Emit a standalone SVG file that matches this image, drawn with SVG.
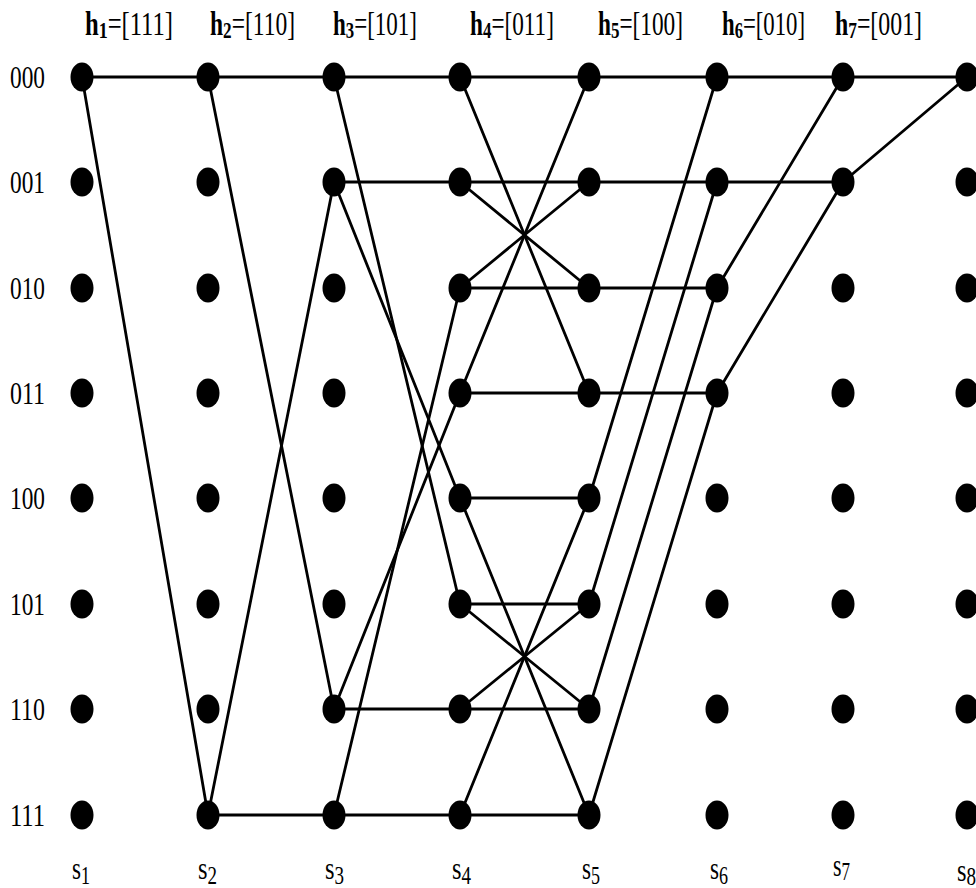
<svg xmlns="http://www.w3.org/2000/svg" width="976" height="888" viewBox="0 0 976 888">
<style>
text{font-family:"Liberation Serif","Times New Roman",serif;fill:#000}
.hdr{font-size:33px}
.b{font-weight:bold}
.sub{font-size:24px}
.row{font-size:31px}
.st{font-size:32px}
.ss{font-size:25px}
#edges line{stroke:#000;stroke-width:2.8;stroke-linecap:round}
.n{fill:#000}
</style>
<rect width="976" height="888" fill="#fff"/>
<g id="headers">
<text x="85" y="35" textLength="88" lengthAdjust="spacingAndGlyphs" class="hdr"><tspan class="b">h</tspan><tspan class="b sub" dy="3">1</tspan><tspan dy="-3">=[111]</tspan></text>
<text x="210" y="35" textLength="85" lengthAdjust="spacingAndGlyphs" class="hdr"><tspan class="b">h</tspan><tspan class="b sub" dy="3">2</tspan><tspan dy="-3">=[110]</tspan></text>
<text x="333" y="35" textLength="84" lengthAdjust="spacingAndGlyphs" class="hdr"><tspan class="b">h</tspan><tspan class="b sub" dy="3">3</tspan><tspan dy="-3">=[101]</tspan></text>
<text x="470" y="35" textLength="84" lengthAdjust="spacingAndGlyphs" class="hdr"><tspan class="b">h</tspan><tspan class="b sub" dy="3">4</tspan><tspan dy="-3">=[011]</tspan></text>
<text x="598" y="35" textLength="85" lengthAdjust="spacingAndGlyphs" class="hdr"><tspan class="b">h</tspan><tspan class="b sub" dy="3">5</tspan><tspan dy="-3">=[100]</tspan></text>
<text x="722" y="35" textLength="83" lengthAdjust="spacingAndGlyphs" class="hdr"><tspan class="b">h</tspan><tspan class="b sub" dy="3">6</tspan><tspan dy="-3">=[010]</tspan></text>
<text x="835" y="35" textLength="87" lengthAdjust="spacingAndGlyphs" class="hdr"><tspan class="b">h</tspan><tspan class="b sub" dy="3">7</tspan><tspan dy="-3">=[001]</tspan></text>
</g>
<g id="rowlabels">
<text x="10" y="88" textLength="35" lengthAdjust="spacingAndGlyphs" class="row">000</text>
<text x="10" y="193" textLength="35" lengthAdjust="spacingAndGlyphs" class="row">001</text>
<text x="10" y="299" textLength="35" lengthAdjust="spacingAndGlyphs" class="row">010</text>
<text x="10" y="404" textLength="35" lengthAdjust="spacingAndGlyphs" class="row">011</text>
<text x="10" y="509" textLength="35" lengthAdjust="spacingAndGlyphs" class="row">100</text>
<text x="10" y="615" textLength="35" lengthAdjust="spacingAndGlyphs" class="row">101</text>
<text x="10" y="720" textLength="35" lengthAdjust="spacingAndGlyphs" class="row">110</text>
<text x="10" y="826" textLength="35" lengthAdjust="spacingAndGlyphs" class="row">111</text>
</g>
<g id="steplabels">
<text x="72" y="879" textLength="18" lengthAdjust="spacingAndGlyphs" class="st">s<tspan class="ss" dy="5">1</tspan></text>
<text x="198" y="879" textLength="19" lengthAdjust="spacingAndGlyphs" class="st">s<tspan class="ss" dy="5">2</tspan></text>
<text x="325" y="879" textLength="19" lengthAdjust="spacingAndGlyphs" class="st">s<tspan class="ss" dy="5">3</tspan></text>
<text x="452" y="879" textLength="19" lengthAdjust="spacingAndGlyphs" class="st">s<tspan class="ss" dy="5">4</tspan></text>
<text x="582" y="879" textLength="18" lengthAdjust="spacingAndGlyphs" class="st">s<tspan class="ss" dy="5">5</tspan></text>
<text x="710" y="879" textLength="18" lengthAdjust="spacingAndGlyphs" class="st">s<tspan class="ss" dy="5">6</tspan></text>
<text x="833" y="876" textLength="17" lengthAdjust="spacingAndGlyphs" class="st">s<tspan class="ss" dy="4">7</tspan></text>
<text x="957" y="881" textLength="19" lengthAdjust="spacingAndGlyphs" class="st">s<tspan class="ss" dy="4">8</tspan></text>
</g>
<g id="edges">
<line x1="82" y1="77" x2="208" y2="77"/><line x1="82" y1="77" x2="208" y2="815"/>
<line x1="208" y1="77" x2="334" y2="77"/><line x1="208" y1="77" x2="334" y2="709"/>
<line x1="208" y1="815" x2="334" y2="815"/><line x1="208" y1="815" x2="334" y2="182"/>
<line x1="334" y1="77" x2="460" y2="77"/><line x1="334" y1="77" x2="460" y2="604"/>
<line x1="334" y1="182" x2="460" y2="182"/><line x1="334" y1="182" x2="460" y2="498"/>
<line x1="334" y1="709" x2="460" y2="709"/><line x1="334" y1="709" x2="460" y2="393"/>
<line x1="334" y1="815" x2="460" y2="815"/><line x1="334" y1="815" x2="460" y2="288"/>
<line x1="460" y1="77" x2="589" y2="77"/><line x1="460" y1="77" x2="589" y2="393"/>
<line x1="460" y1="182" x2="589" y2="182"/><line x1="460" y1="182" x2="589" y2="288"/>
<line x1="460" y1="288" x2="589" y2="288"/><line x1="460" y1="288" x2="589" y2="182"/>
<line x1="460" y1="393" x2="589" y2="393"/><line x1="460" y1="393" x2="589" y2="77"/>
<line x1="460" y1="498" x2="589" y2="498"/><line x1="460" y1="498" x2="589" y2="815"/>
<line x1="460" y1="604" x2="589" y2="604"/><line x1="460" y1="604" x2="589" y2="709"/>
<line x1="460" y1="709" x2="589" y2="709"/><line x1="460" y1="709" x2="589" y2="604"/>
<line x1="460" y1="815" x2="589" y2="815"/><line x1="460" y1="815" x2="589" y2="498"/>
<line x1="589" y1="77" x2="717" y2="77"/><line x1="589" y1="498" x2="717" y2="77"/>
<line x1="589" y1="182" x2="717" y2="182"/><line x1="589" y1="604" x2="717" y2="182"/>
<line x1="589" y1="288" x2="717" y2="288"/><line x1="589" y1="709" x2="717" y2="288"/>
<line x1="589" y1="393" x2="717" y2="393"/><line x1="589" y1="815" x2="717" y2="393"/>
<line x1="717" y1="77" x2="843" y2="77"/><line x1="717" y1="288" x2="843" y2="77"/>
<line x1="717" y1="182" x2="843" y2="182"/><line x1="717" y1="393" x2="843" y2="182"/>
<line x1="843" y1="77" x2="967" y2="77"/><line x1="843" y1="182" x2="967" y2="77"/>
</g>
<defs><ellipse id="dot" rx="11.5" ry="14.5"/></defs>
<g id="nodes" class="n">
<g id="s1-000"><use href="#dot" x="82" y="77"/></g><g id="s1-001"><use href="#dot" x="82" y="182"/></g><g id="s1-010"><use href="#dot" x="82" y="288"/></g><g id="s1-011"><use href="#dot" x="82" y="393"/></g><g id="s1-100"><use href="#dot" x="82" y="498"/></g><g id="s1-101"><use href="#dot" x="82" y="604"/></g><g id="s1-110"><use href="#dot" x="82" y="709"/></g><g id="s1-111"><use href="#dot" x="82" y="815"/></g>
<g id="s2-000"><use href="#dot" x="208" y="77"/></g><g id="s2-001"><use href="#dot" x="208" y="182"/></g><g id="s2-010"><use href="#dot" x="208" y="288"/></g><g id="s2-011"><use href="#dot" x="208" y="393"/></g><g id="s2-100"><use href="#dot" x="208" y="498"/></g><g id="s2-101"><use href="#dot" x="208" y="604"/></g><g id="s2-110"><use href="#dot" x="208" y="709"/></g><g id="s2-111"><use href="#dot" x="208" y="815"/></g>
<g id="s3-000"><use href="#dot" x="334" y="77"/></g><g id="s3-001"><use href="#dot" x="334" y="182"/></g><g id="s3-010"><use href="#dot" x="334" y="288"/></g><g id="s3-011"><use href="#dot" x="334" y="393"/></g><g id="s3-100"><use href="#dot" x="334" y="498"/></g><g id="s3-101"><use href="#dot" x="334" y="604"/></g><g id="s3-110"><use href="#dot" x="334" y="709"/></g><g id="s3-111"><use href="#dot" x="334" y="815"/></g>
<g id="s4-000"><use href="#dot" x="460" y="77"/></g><g id="s4-001"><use href="#dot" x="460" y="182"/></g><g id="s4-010"><use href="#dot" x="460" y="288"/></g><g id="s4-011"><use href="#dot" x="460" y="393"/></g><g id="s4-100"><use href="#dot" x="460" y="498"/></g><g id="s4-101"><use href="#dot" x="460" y="604"/></g><g id="s4-110"><use href="#dot" x="460" y="709"/></g><g id="s4-111"><use href="#dot" x="460" y="815"/></g>
<g id="s5-000"><use href="#dot" x="589" y="77"/></g><g id="s5-001"><use href="#dot" x="589" y="182"/></g><g id="s5-010"><use href="#dot" x="589" y="288"/></g><g id="s5-011"><use href="#dot" x="589" y="393"/></g><g id="s5-100"><use href="#dot" x="589" y="498"/></g><g id="s5-101"><use href="#dot" x="589" y="604"/></g><g id="s5-110"><use href="#dot" x="589" y="709"/></g><g id="s5-111"><use href="#dot" x="589" y="815"/></g>
<g id="s6-000"><use href="#dot" x="717" y="77"/></g><g id="s6-001"><use href="#dot" x="717" y="182"/></g><g id="s6-010"><use href="#dot" x="717" y="288"/></g><g id="s6-011"><use href="#dot" x="717" y="393"/></g><g id="s6-100"><use href="#dot" x="717" y="498"/></g><g id="s6-101"><use href="#dot" x="717" y="604"/></g><g id="s6-110"><use href="#dot" x="717" y="709"/></g><g id="s6-111"><use href="#dot" x="717" y="815"/></g>
<g id="s7-000"><use href="#dot" x="843" y="77"/></g><g id="s7-001"><use href="#dot" x="843" y="182"/></g><g id="s7-010"><use href="#dot" x="843" y="288"/></g><g id="s7-011"><use href="#dot" x="843" y="393"/></g><g id="s7-100"><use href="#dot" x="843" y="498"/></g><g id="s7-101"><use href="#dot" x="843" y="604"/></g><g id="s7-110"><use href="#dot" x="843" y="709"/></g><g id="s7-111"><use href="#dot" x="843" y="815"/></g>
<g id="s8-000"><use href="#dot" x="967" y="77"/></g><g id="s8-001"><use href="#dot" x="967" y="182"/></g><g id="s8-010"><use href="#dot" x="967" y="288"/></g><g id="s8-011"><use href="#dot" x="967" y="393"/></g><g id="s8-100"><use href="#dot" x="967" y="498"/></g><g id="s8-101"><use href="#dot" x="967" y="604"/></g><g id="s8-110"><use href="#dot" x="967" y="709"/></g><g id="s8-111"><use href="#dot" x="967" y="815"/></g>
</g>
</svg>
